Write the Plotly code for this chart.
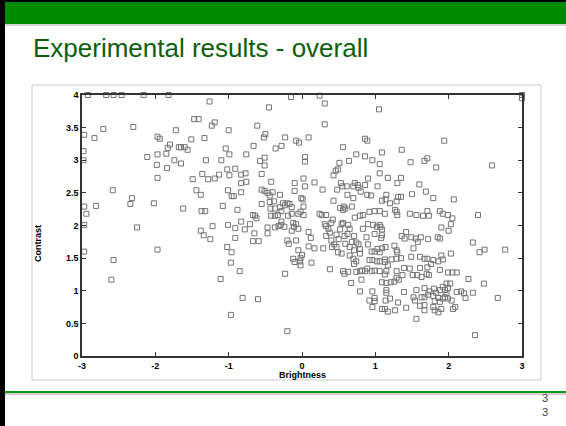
import plotly.graph_objects as go

# ---------------- data (Brightness, Contrast) ----------------
upper_left = [
    (-2.92, 4.0), (-2.67, 4.0), (-2.57, 4.0), (-2.46, 4.0), (-2.16, 4.0), (-1.82, 4.0),
    (-1.26, 3.90), (-1.47, 3.63), (-1.41, 3.63), (-1.19, 3.58), (-1.23, 3.53), (-2.71, 3.48),
    (-2.30, 3.51), (-2.97, 3.39), (-2.83, 3.34), (-1.72, 3.46), (-1.00, 3.46), (-1.97, 3.36),
    (-1.94, 3.33), (-1.51, 3.32), (-1.33, 3.34), (-1.80, 3.24), (-1.83, 3.19), (-1.68, 3.20),
    (-1.65, 3.20), (-1.60, 3.20), (-1.56, 3.16), (-1.04, 3.18), (-0.99, 3.09), (-2.98, 3.14),
    (-2.98, 3.00), (-1.85, 3.10), (-1.97, 3.09), (-2.11, 3.05), (-1.74, 3.00), (-1.65, 2.95),
    (-1.98, 2.93), (-1.31, 3.00), (-1.10, 3.00), (-1.84, 2.88), (-1.02, 2.86), (-1.36, 2.79),
    (-1.49, 2.71), (-1.28, 2.71), (-1.19, 2.72), (-1.13, 2.78), (-0.99, 2.77), (-1.97, 2.73),
    (-2.58, 2.54), (-1.44, 2.54), (-1.38, 2.47), (-1.01, 2.54), (-0.96, 2.45), (-2.32, 2.42),
    (-2.34, 2.33), (-2.02, 2.34), (-2.97, 2.29), (-2.81, 2.30), (-2.94, 2.18), (-1.62, 2.26),
    (-1.37, 2.22), (-1.32, 2.22), (-1.08, 2.30), (-2.97, 2.01), (-2.25, 1.97), (-1.22, 1.99),
    (-1.01, 2.01),
]
lower_left = [
    (-1.38, 1.92), (-1.34, 1.85), (-1.25, 1.79), (-2.97, 1.60), (-2.57, 1.47), (-1.97, 1.63),
    (-1.02, 1.67), (-0.96, 1.59), (-0.97, 1.43), (-2.60, 1.17), (-1.11, 1.18), (-0.97, 0.63),
    (-0.81, 0.89), (-0.60, 0.87),
]
upper_middle = [
    (-0.15, 3.97), (0.24, 3.99), (0.31, 3.87), (-0.45, 3.81), (1.05, 3.78), (-0.61, 3.53),
    (0.31, 3.55), (-0.50, 3.40), (-0.52, 3.35), (-0.23, 3.35), (-0.08, 3.30), (-0.04, 3.27),
    (0.09, 3.35), (-0.66, 3.22), (-0.28, 3.22), (-0.36, 3.18), (-0.76, 3.09), (0.56, 3.20),
    (0.86, 3.33), (0.89, 3.30), (1.09, 3.12), (0.74, 3.09), (0.86, 3.06), (0.96, 3.00),
    (1.06, 2.94), (0.64, 2.99), (0.51, 2.96), (-0.51, 3.04), (-0.57, 2.99), (-0.51, 2.92),
    (0.04, 3.05), (0.04, 2.98), (-0.91, 2.87), (-0.83, 2.78), (-0.77, 2.80), (-0.55, 2.79),
    (0.49, 2.86), (0.46, 2.84), (0.43, 2.77), (1.06, 2.80), (-0.83, 2.65), (-0.76, 2.67),
    (-0.42, 2.67), (-0.10, 2.65), (0.02, 2.72), (0.04, 2.60), (0.17, 2.66), (0.90, 2.72),
    (0.53, 2.65), (0.55, 2.60), (0.72, 2.65), (0.76, 2.62), (0.77, 2.58), (0.70, 2.60),
    (0.86, 2.62), (0.61, 2.60), (1.03, 2.60), (-0.83, 2.51), (-0.55, 2.55), (-0.51, 2.53),
    (-0.47, 2.50), (-0.44, 2.46), (-0.40, 2.51), (-0.30, 2.47), (-0.10, 2.53), (-0.01, 2.42),
    (0.01, 2.40), (0.28, 2.55), (0.48, 2.55), (0.62, 2.47), (0.70, 2.42), (0.80, 2.52),
    (0.89, 2.47), (0.94, 2.46), (-0.93, 2.45), (-0.55, 2.33), (-0.44, 2.36), (-0.38, 2.37),
    (-0.26, 2.34), (-0.23, 2.31), (-0.20, 2.34), (-0.17, 2.33), (-0.14, 2.28), (0.02, 2.29),
    (0.43, 2.38), (0.57, 2.29), (0.59, 2.26), (0.56, 2.24), (0.52, 2.27), (0.68, 2.29),
    (0.99, 2.22), (1.06, 2.22), (0.92, 2.21), (-0.88, 2.24), (-0.43, 2.26), (-0.37, 2.26),
    (-0.30, 2.28), (-0.28, 2.22), (-0.42, 2.15), (-0.37, 2.15), (-0.33, 2.16), (-0.67, 2.16),
    (-0.64, 2.15), (-0.62, 2.11), (-0.19, 2.15), (-0.14, 2.18), (-0.05, 2.18), (-0.02, 2.21),
    (0.02, 2.16), (0.24, 2.18), (0.27, 2.16), (0.33, 2.16), (0.42, 2.09), (0.72, 2.12),
    (0.79, 2.15), (0.83, 2.16), (-0.83, 2.06), (-0.71, 2.02), (-0.28, 2.06), (-0.29, 2.01),
    (-0.32, 1.99), (-0.12, 2.04), (-0.08, 2.02), (0.31, 2.02), (0.33, 1.99), (0.40, 2.04),
    (0.54, 2.02), (0.56, 2.04), (0.63, 2.01), (0.90, 2.02), (0.97, 2.01), (-0.47, 1.97),
    (-0.37, 1.97),
]
upper_right = [
    (3.0, 4.0), (3.0, 3.95), (1.94, 3.30), (1.36, 3.16), (1.48, 2.97), (1.67, 2.99),
    (1.71, 3.03), (1.83, 2.89), (2.59, 2.92), (1.17, 2.73), (1.35, 2.73), (1.30, 2.65),
    (1.60, 2.63), (1.69, 2.52), (1.50, 2.48), (1.15, 2.47), (1.14, 2.40), (1.31, 2.44),
    (1.35, 2.44), (1.09, 2.38), (1.20, 2.34), (1.29, 2.37), (1.79, 2.42), (2.07, 2.40),
    (1.27, 2.24), (1.29, 2.21), (1.30, 2.16), (1.13, 2.18), (1.47, 2.18), (1.56, 2.16),
    (1.65, 2.15), (1.71, 2.22), (1.73, 2.15), (1.88, 2.22), (1.92, 2.18), (1.99, 2.16),
    (2.05, 2.11), (2.40, 2.16), (1.06, 2.01), (1.90, 1.97), (2.03, 2.02),
]
lower_middle = [
    (-0.91, 1.96), (-0.78, 1.94), (-0.65, 1.88), (-0.67, 1.76), (-0.59, 1.76), (-0.91, 1.81),
    (-0.47, 1.88), (-0.24, 1.98), (-0.11, 1.98), (-0.14, 1.92), (-0.05, 1.95), (0.09, 1.90),
    (0.12, 1.81), (-0.20, 1.77), (-0.18, 1.72), (-0.08, 1.77), (-0.05, 1.62), (0.00, 1.55),
    (-0.02, 1.50), (-0.12, 1.49), (-0.10, 1.44), (-0.03, 1.45), (-0.02, 1.39), (0.13, 1.43),
    (0.09, 1.68), (0.17, 1.65), (0.29, 1.65), (0.36, 1.95), (0.38, 1.89), (0.33, 1.84),
    (0.40, 1.77), (0.44, 1.71), (0.41, 1.67), (0.38, 1.33), (0.47, 1.86), (0.50, 1.79),
    (0.52, 1.94), (0.47, 1.67), (0.49, 1.59), (0.54, 1.57), (0.58, 1.84), (0.62, 1.87),
    (0.65, 1.95), (0.59, 1.72), (0.65, 1.67), (0.68, 1.75), (0.56, 1.30), (0.58, 1.26),
    (0.63, 1.29), (0.67, 1.12), (0.71, 1.84), (0.74, 1.74), (0.77, 1.71), (0.79, 1.64),
    (0.71, 1.62), (0.65, 1.54), (0.70, 1.49), (0.71, 1.41), (0.74, 1.45), (0.79, 1.57),
    (0.74, 1.29), (0.79, 1.30), (0.82, 1.31), (0.86, 1.30), (0.89, 1.34), (0.81, 1.17),
    (0.79, 0.99), (0.83, 1.95), (0.88, 1.82), (0.90, 1.71), (0.95, 1.60), (0.92, 1.47),
    (0.99, 1.87), (1.02, 1.98), (0.99, 1.60), (1.03, 1.64), (1.06, 1.59), (0.96, 1.47),
    (1.02, 1.45), (1.06, 1.45), (0.95, 1.30), (0.99, 1.31), (1.06, 1.30), (0.96, 0.99),
    (0.92, 0.85), (0.99, 0.89), (0.99, 0.84), (0.96, 0.75), (1.09, 1.13), (1.09, 0.72),
    (-0.85, 1.30), (-0.23, 1.26), (-0.20, 0.38),
]
lower_right = [
    (1.07, 1.98), (1.09, 1.94), (1.09, 1.85), (1.08, 1.81), (2.00, 1.92), (1.42, 1.90),
    (1.49, 1.82), (1.55, 1.80), (1.58, 1.75), (1.62, 1.82), (1.72, 1.79), (1.85, 1.82),
    (1.88, 1.80), (1.36, 1.84), (1.40, 1.80), (2.33, 1.74), (2.42, 1.59), (2.49, 1.63),
    (2.77, 1.63), (1.09, 1.65), (1.14, 1.67), (1.26, 1.69), (1.29, 1.62), (1.30, 1.59),
    (1.52, 1.65), (1.49, 1.52), (1.13, 1.48), (1.22, 1.48), (1.29, 1.49), (1.35, 1.50),
    (1.13, 1.44), (1.17, 1.39), (1.61, 1.52), (1.67, 1.49), (1.71, 1.49), (1.76, 1.41),
    (1.79, 1.47), (1.86, 1.45), (1.90, 1.54), (1.92, 1.48), (2.03, 1.57), (1.15, 1.30),
    (1.29, 1.30), (1.39, 1.35), (1.47, 1.34), (1.61, 1.35), (1.71, 1.36), (1.13, 1.25),
    (1.29, 1.20), (1.37, 1.24), (1.51, 1.24), (1.57, 1.24), (1.63, 1.21), (1.70, 1.26),
    (1.73, 1.24), (1.88, 1.32), (1.99, 1.28), (2.05, 1.28), (2.11, 1.28), (2.27, 1.18),
    (2.48, 1.11), (1.15, 1.12), (1.21, 1.13), (1.26, 1.14), (1.32, 1.17), (1.15, 1.01),
    (1.15, 0.97), (1.39, 0.98), (1.56, 1.01), (1.67, 1.04), (1.74, 0.99), (1.80, 1.03),
    (1.83, 0.97), (1.88, 1.01), (1.92, 1.06), (1.97, 1.11), (2.02, 1.11), (1.95, 1.01),
    (1.97, 0.96), (1.99, 1.04), (1.52, 0.90), (1.54, 0.85), (1.63, 0.90), (1.61, 0.77),
    (1.67, 0.78), (1.67, 0.90), (1.72, 0.94), (1.79, 0.92), (1.81, 0.84), (1.86, 0.89),
    (1.88, 0.83), (1.92, 0.88), (1.95, 0.90), (1.99, 0.88), (2.04, 0.85), (2.11, 0.98),
    (2.17, 0.99), (2.21, 0.96), (2.23, 0.89), (2.33, 0.97), (2.09, 0.75), (2.06, 0.72),
    (1.79, 0.75), (1.81, 0.70), (1.86, 0.67), (1.90, 0.72), (1.67, 0.70), (1.56, 0.57),
    (1.42, 0.74), (1.31, 0.82), (1.13, 0.72), (1.17, 0.68), (1.27, 0.70), (1.14, 0.85),
    (1.20, 0.88), (2.67, 0.89), (2.36, 0.32),
]

x_ticks = [-3, -2, -1, 0, 1, 2, 3]
x_tick_labels = ["-3", "-2", "-1", "0", "1", "2", "3"]
y_ticks = [0, 0.5, 1, 1.5, 2, 2.5, 3, 3.5, 4]
y_tick_labels = ["0", "0.5", "1", "1.5", "2", "2.5", "3", "3.5", "4"]

title_text = "Experimental results - overall"
x_title = "Brightness"
y_title = "Contrast"
page_number = "3<br>3"

points = upper_left + lower_left + upper_middle + upper_right + lower_middle + lower_right
brightness = [p[0] for p in points]
contrast = [p[1] for p in points]

# ---------------- layout geometry (pixels) ----------------
W, H = 566, 426
PL, PR, PT, PB = 82, 522, 95, 356   # plot area edges


def px(x):
    return (x - PL) / (PR - PL)


def py(y):
    return (PB - y) / (PB - PT)


fig = go.Figure()
fig.add_trace(go.Scatter(
    x=brightness, y=contrast, mode="markers",
    marker=dict(symbol="square-open", size=5, color="#747474", line=dict(width=1)),
    cliponaxis=False, hoverinfo="skip", showlegend=False,
))

font = "Liberation Sans, Arial, sans-serif"
axis_common = dict(
    showline=True, linecolor="#333333", linewidth=1.5, mirror="ticks",
    ticks="inside", ticklen=4, tickwidth=1, tickcolor="#333333",
    showgrid=False, zeroline=False,
    tickfont=dict(family=font, size=9, color="black", weight="bold"),
)

shapes = [
    # slide left border and top edge
    dict(type="rect", xref="paper", yref="paper", x0=px(0), x1=px(5), y0=py(0), y1=py(H),
         fillcolor="black", line=dict(width=0), layer="above"),
    dict(type="rect", xref="paper", yref="paper", x0=px(0), x1=px(W), y0=py(0), y1=py(2),
         fillcolor="black", line=dict(width=0), layer="above"),
    # green header band and its shadow
    dict(type="rect", xref="paper", yref="paper", x0=px(5), x1=px(W), y0=py(2), y1=py(24),
         fillcolor="#008a00", line=dict(width=0), layer="above"),
    dict(type="rect", xref="paper", yref="paper", x0=px(5), x1=px(W), y0=py(24), y1=py(26),
         fillcolor="#d4d4d4", line=dict(width=0), layer="above"),
    # chart picture frame
    dict(type="rect", xref="paper", yref="paper", x0=px(32), x1=px(541), y0=py(85), y1=py(380),
         line=dict(color="#cccccc", width=1), fillcolor="rgba(0,0,0,0)", layer="below"),
    # green footer line and shadow
    dict(type="line", xref="paper", yref="paper", x0=px(5), x1=px(W), y0=py(394), y1=py(394),
         line=dict(color="#d0d0d0", width=2), layer="above"),
    dict(type="line", xref="paper", yref="paper", x0=px(5), x1=px(W), y0=py(392), y1=py(392),
         line=dict(color="#119911", width=1.8), layer="above"),
]

annotations = [
    dict(text=title_text, xref="paper", yref="paper", x=px(31), y=py(48),
         xanchor="left", yanchor="middle", showarrow=False,
         font=dict(family=font, size=26, color="#0d5e0d")),
    dict(text=x_title, xref="paper", yref="paper", x=px(302), y=py(375),
         xanchor="center", yanchor="middle", showarrow=False,
         font=dict(family=font, size=9, color="black", weight="bold")),
    dict(text=y_title, xref="paper", yref="paper", x=px(38), y=py(244), textangle=-90,
         xanchor="center", yanchor="middle", showarrow=False,
         font=dict(family=font, size=9, color="black", weight="bold")),
    dict(text=page_number, xref="paper", yref="paper", x=px(545), y=py(405),
         xanchor="center", yanchor="middle", showarrow=False,
         font=dict(family=font, size=11, color="#444444")),
]

fig.update_layout(
    width=W, height=H, autosize=False,
    margin=dict(l=PL, r=W - PR, t=PT, b=H - PB, pad=0),
    paper_bgcolor="white", plot_bgcolor="white",
    xaxis=dict(range=[-3, 3], tickvals=x_ticks, ticktext=x_tick_labels, **axis_common),
    yaxis=dict(range=[0, 4], tickvals=y_ticks, ticktext=y_tick_labels, **axis_common),
    shapes=shapes, annotations=annotations,
)

fig.write_html(
    "out.html",
    config={"displayModeBar": False},
    post_script="document.body.style.margin='0';document.body.style.padding='0';"
                "document.body.style.overflow='hidden';",
)
